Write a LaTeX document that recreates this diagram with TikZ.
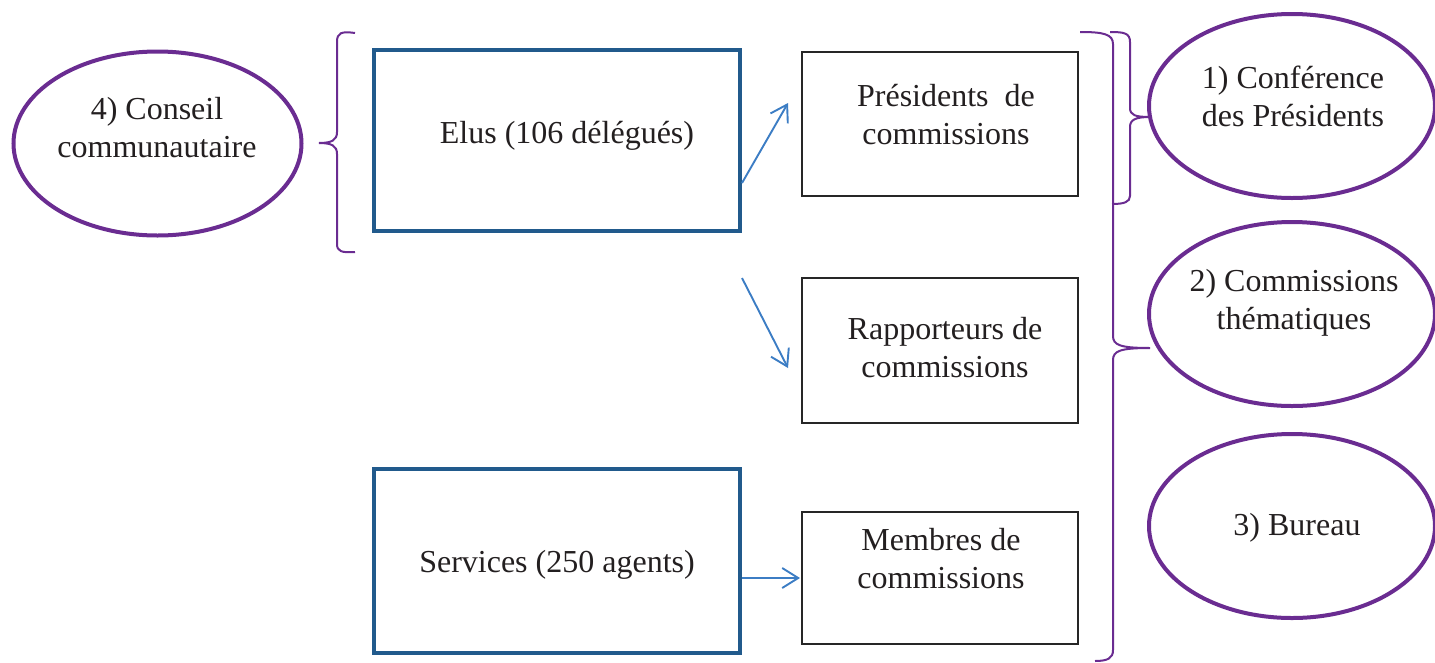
\documentclass[tikz,border=0pt]{standalone}
\usepackage{fontspec}
\setmainfont{Liberation Serif}
\usetikzlibrary{arrows.meta,shapes.geometric}
\definecolor{purp}{HTML}{6A2C91}
\definecolor{dblue}{HTML}{215A8C}
\definecolor{lblue}{HTML}{3C7DC4}
\definecolor{txt}{HTML}{231F20}
\begin{document}
\begin{tikzpicture}[x=1pt,y=-1pt,
  lbl/.style={font=\fontsize{32}{37.5}\selectfont, text=txt, align=center, inner sep=0pt, anchor=base},
  oval/.style={draw=purp, line width=4pt, ellipse, minimum width=286pt, minimum height=184pt, inner sep=0pt},
  thickbox/.style={draw=dblue, line width=4pt, rectangle, minimum width=366pt, inner sep=0pt},
  thinbox/.style={draw=black!85, line width=1.3pt, rectangle, minimum width=276pt, inner sep=0pt},
  brace/.style={draw=purp, line width=2pt},
  link/.style={draw=lblue, line width=1.9pt, -{Straight Barb[length=16pt,width=20pt]}}]
\useasboundingbox (0,0) rectangle (1435,662);

% ellipses
\node[oval, minimum width=288pt] (conseil) at (157.5,143.5) {};
\node[oval] (conf) at (1292,106) {};
\node[oval] (comm) at (1292,314) {};
\node[oval] (bureau) at (1292,526) {};

% boxes
\node[thickbox, minimum height=181pt] (elus) at (557,140.5) {};
\node[thickbox, minimum height=184pt] (serv) at (557,561) {};
\node[thinbox, minimum height=144pt] (pres) at (940,124) {};
\node[thinbox, minimum height=145pt] (rapp) at (940,350.5) {};
\node[thinbox, minimum height=132pt] (memb) at (940,578) {};

% texts (multi-line nodes: anchor at baseline of last line)
\node[lbl] (tconseil) at (157,157) {4) Conseil\\communautaire};
\node[lbl] (tconf) at (1293,126) {1) Conférence\\des Présidents};
\node[lbl] (tcomm) at (1294,329) {2) Commissions\\thématiques};
\node[lbl] (tbureau) at (1297,535) {3) Bureau};
\node[lbl] (telus) at (567,143) {Elus (106 délégués)};
\node[lbl] (tserv) at (557,572) {Services (250 agents)};
\node[lbl] (tpres) at (946,144) {Présidents\ \ de\\commissions};
\node[lbl] (trapp) at (945,377) {Rapporteurs de\\commissions};
\node[lbl] (tmemb) at (941,588) {Membres de\\commissions};

% arrows
\coordinate (a1s) at (742,183);
\coordinate (a1e) at (788,103);
\coordinate (a2s) at (742,278);
\coordinate (a2e) at (788,368);
\coordinate (a3s) at (742,578);
\coordinate (a3e) at (800,578);
\draw[link] (a1s) -- (a1e);
\draw[link] (a2s) -- (a2e);
\draw[link] (a3s) -- (a3e);

% left brace
\draw[brace] (355,33) .. controls (341,31) and (337,33) .. (337,42)
  -- (337,132) .. controls (337,140) and (332,143) .. (319,143)
  .. controls (332,143) and (337,146) .. (337,154)
  -- (337,244) .. controls (337,251) and (341,253) .. (355,252);

% big right brace
\draw[brace] (1080,32) .. controls (1103,32) and (1113,34) .. (1113,44)
  -- (1113,336) .. controls (1113,345) and (1120,348) .. (1150,348)
  .. controls (1120,348) and (1113,351) .. (1113,360)
  -- (1113,650) .. controls (1113,658) and (1108,661) .. (1095,661);

% small right brace
\draw[brace] (1110,32) .. controls (1124,32) and (1130,33) .. (1130,42)
  -- (1130,108) .. controls (1130,115) and (1135,117) .. (1150,117)
  .. controls (1135,117) and (1130,120) .. (1130,127)
  -- (1130,196) .. controls (1130,202) and (1124,204) .. (1112,204);
\end{tikzpicture}
\end{document}
